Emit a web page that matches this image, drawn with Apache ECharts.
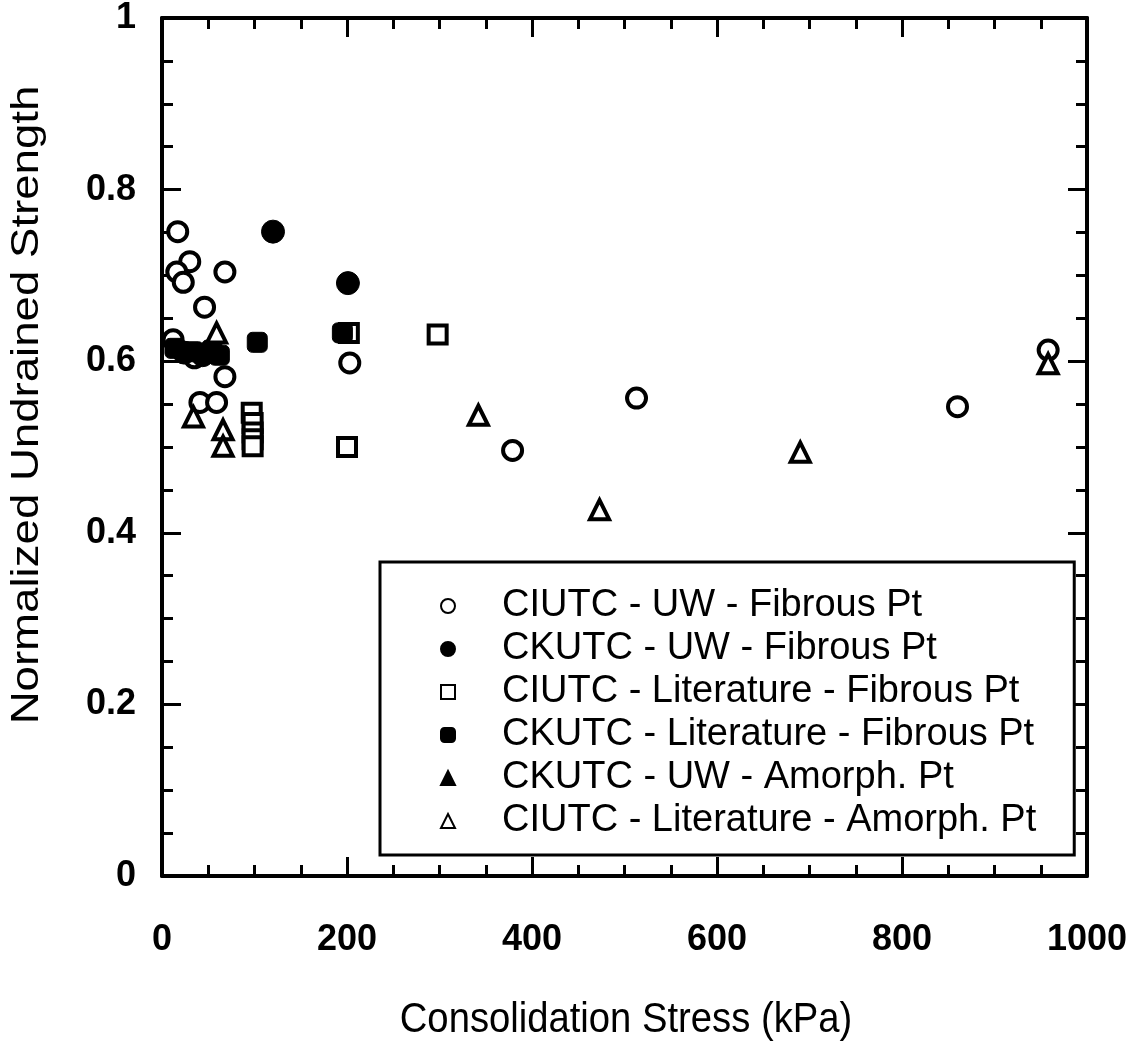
<!DOCTYPE html>
<html>
<head>
<meta charset="utf-8">
<script src="https://cdn.jsdelivr.net/npm/echarts@6/dist/echarts.min.js"></script>
<style>
  html, body { margin: 0; padding: 0; background: #fff; }
  #chart { width: 1137px; height: 1046px; }
</style>
</head>
<body>
<div id="chart"></div>
<script>
// Consolidation stress (kPa) vs normalized undrained strength, [x, y]
const ciutcUwFibrous = [
  [17, 0.751], [30, 0.716], [16, 0.704], [23, 0.692], [68, 0.704], [46, 0.663],
  [12, 0.625], [35, 0.604], [68, 0.582], [41, 0.552], [59, 0.552], [203, 0.598],
  [379, 0.496], [513, 0.557], [860, 0.547], [958, 0.613]
];
const ckutcUwFibrous = [
  [120, 0.751], [201, 0.691], [24, 0.610], [44, 0.607]
];
const ciutcLitFibrous = [
  [97, 0.540], [98, 0.528], [98, 0.517], [98, 0.509], [98, 0.501],
  [200, 0.500], [202, 0.633], [298, 0.631]
];
const ckutcLitFibrous = [
  [195, 0.633], [103, 0.622], [14, 0.615], [34, 0.611], [54, 0.613], [62, 0.607]
];
const ckutcUwAmorph = [
  [58, 0.615]
];
const ciutcLitAmorph = [
  [59, 0.633], [34, 0.535], [66, 0.520], [66, 0.501], [342, 0.537],
  [473, 0.427], [690, 0.494], [958, 0.597]
];

const seriesNames = [
  'CIUTC - UW - Fibrous Pt',
  'CKUTC - UW - Fibrous Pt',
  'CIUTC - Literature - Fibrous Pt',
  'CKUTC - Literature - Fibrous Pt',
  'CKUTC - UW - Amorph. Pt',
  'CIUTC - Literature - Amorph. Pt'
];

const xTitle = 'Consolidation Stress (kPa)';
const yTitle = 'Normalized Undrained Strength';

const SANS = "'Liberation Sans', Arial, sans-serif";

function openStyle() {
  return { color: '#fff', borderColor: '#000', borderWidth: 4, opacity: 1 };
}
function solidStyle() {
  return { color: '#000', borderColor: '#000', borderWidth: 1, opacity: 1 };
}

function scatter(name, data, symbol, size, style) {
  return {
    name, type: 'scatter', data, symbol, symbolSize: size,
    itemStyle: style, xAxisIndex: 0, yAxisIndex: 0,
    emphasis: { disabled: true }, z: 3
  };
}

// Boxed frame: every side carries inward ticks, major every step, minor in quarters
function frameParts() {
  return {
    axisLine: { show: true, onZero: false, lineStyle: { color: '#000', width: 4 } },
    axisTick: { show: true, inside: true, length: 19, lineStyle: { color: '#000', width: 3 } },
    minorTick: { show: true, splitNumber: 4, length: 11, lineStyle: { color: '#000', width: 3 } },
    splitLine: { show: false },
    minorSplitLine: { show: false }
  };
}

const tickFont = { color: '#000', fontFamily: SANS, fontWeight: 'bold', fontSize: 36 };

const option = {
  backgroundColor: '#fff',
  animation: false,
  grid: { left: 162, top: 18, right: 50, bottom: 170, containLabel: false },
  xAxis: [
    Object.assign({
      type: 'value', min: 0, max: 1000, interval: 200, position: 'bottom',
      axisLabel: Object.assign({ margin: 46, showMinLabel: true, showMaxLabel: true,
        formatter: v => String(v) }, tickFont)
    }, frameParts()),
    Object.assign({
      type: 'value', min: 0, max: 1000, interval: 200, position: 'top',
      axisLabel: { show: false }
    }, frameParts())
  ],
  yAxis: [
    Object.assign({
      type: 'value', min: 0, max: 1, interval: 0.2, position: 'left',
      axisLabel: Object.assign({ margin: 26 }, tickFont)
    }, frameParts()),
    Object.assign({
      type: 'value', min: 0, max: 1, interval: 0.2, position: 'right',
      axisLabel: { show: false }
    }, frameParts())
  ],
  legend: {
    orient: 'vertical',
    left: 380, top: 562,
    padding: [24, 38, 14, 60],
    itemGap: 3,
    itemWidth: 14, itemHeight: 14,
    borderColor: '#000', borderWidth: 3,
    backgroundColor: '#fff',
    selectedMode: false,
    data: seriesNames,
    textStyle: { color: '#000', fontFamily: SANS, fontSize: 38, lineHeight: 40, padding: [0, 0, 0, 42] }
  },
  graphic: [
    {
      type: 'text', x: 28, y: 405, rotation: Math.PI / 2, scaleX: 1.2,
      style: { text: yTitle, font: "38px " + SANS, fill: '#000', textAlign: 'center', textVerticalAlign: 'middle' }
    },
    {
      type: 'text', x: 626, y: 1020, scaleX: 0.91,
      style: { text: xTitle, font: "42px " + SANS, fill: '#000', textAlign: 'center', textVerticalAlign: 'middle' }
    }
  ],
  series: [
    scatter(seriesNames[0], ciutcUwFibrous, 'circle', 19, openStyle()),
    scatter(seriesNames[1], ckutcUwFibrous, 'circle', 23, solidStyle()),
    scatter(seriesNames[2], ciutcLitFibrous, 'rect', 18, openStyle()),
    scatter(seriesNames[3], ckutcLitFibrous, 'roundRect', 20, solidStyle()),
    scatter(seriesNames[4], ckutcUwAmorph, 'triangle', 19, solidStyle()),
    scatter(seriesNames[5], ciutcLitAmorph, 'triangle', 19, openStyle())
  ]
};

const chart = echarts.init(document.getElementById('chart'), null, { renderer: 'canvas' });
chart.setOption(option);
</script>
</body>
</html>
